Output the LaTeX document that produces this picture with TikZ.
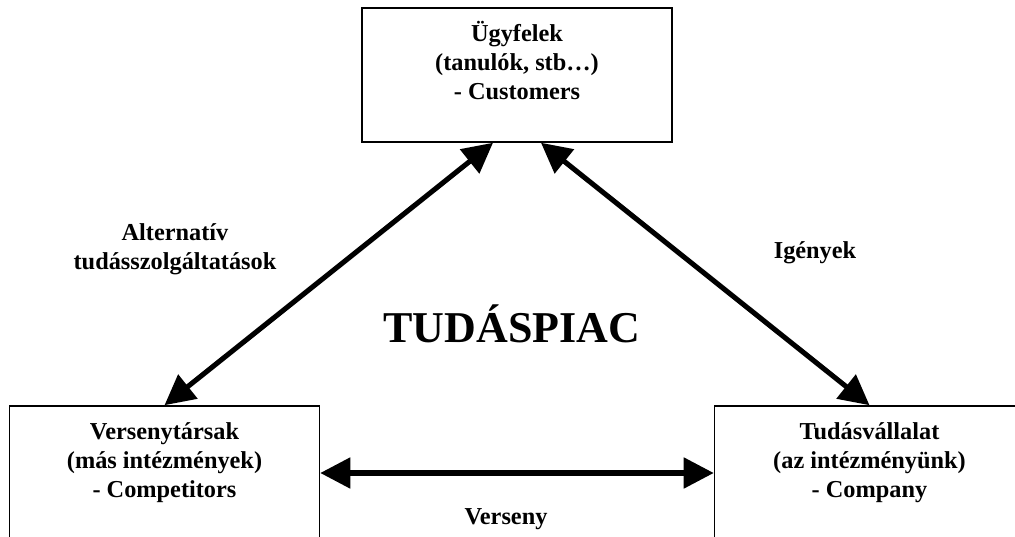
\documentclass[tikz,border=0pt]{standalone}
\usepackage{fontspec}
\setmainfont{Liberation Serif}
\usepackage{tikz}
\usetikzlibrary{arrows.meta,positioning}

\begin{document}
\begin{tikzpicture}[
    every node/.style={font=\fontsize{17.3pt}{20.6pt}\selectfont\bfseries},
    box/.style={
        rectangle,
        minimum width=7.75cm,
        minimum height=3.35cm,
        draw,
        line width=1.1pt
    },
    boxtext/.style={
        align=center,
        inner sep=0pt
    },
    arrow/.style={
        {Triangle[length=0.75cm,width=0.75cm]}-{Triangle[length=0.75cm,width=0.75cm]},
        line width=3.6pt
    }
]
    % Frame of the picture
    \useasboundingbox (0,0) rectangle (25.375,13.425);
    \clip (0,0) rectangle (25.375,13.425);

    % === CUSTOMERS ===
    \node[box] (customers) at (12.925,11.55) {};
    \node[boxtext, below=0.35cm of customers.north] (customerstext) {\strut Ügyfelek\\(tanulók, stb…)\\- Customers};

    % === COMPETITORS ===
    \node[box] (competitors) at (4.1125,1.6) {};
    \node[boxtext, below=0.35cm of competitors.north] (competitorstext) {\strut Versenytársak\\(más intézmények)\\- Competitors};

    % === COMPANY ===
    \node[box] (company) at (21.7375,1.6) {};
    \node[boxtext, below=0.35cm of company.north] (companytext) {\strut Tudásvállalat\\(az intézményünk)\\- Company};

    % Arrows between the three parties
    \draw[arrow] ([xshift=-0.6cm]customers.south) -- (competitors.north);
    \draw[arrow] ([xshift=0.6cm]customers.south) -- (company.north);
    \draw[arrow] (competitors.east) -- (company.west);

    % Labels
    \node[align=center] (alternative) at (4.375,7.2) {Alternatív\\tudásszolgáltatások};
    \node[anchor=base] (needs) at (20.375,6.95) {Igények};
    \node[anchor=base] (competition) at (12.65,0.3) {Verseny};

    % Market in the middle
    \node[anchor=base, font=\fontsize{31.3pt}{36pt}\selectfont\bfseries] (market) at (12.8,4.85) {TUDÁSPIAC};
\end{tikzpicture}
\end{document}
